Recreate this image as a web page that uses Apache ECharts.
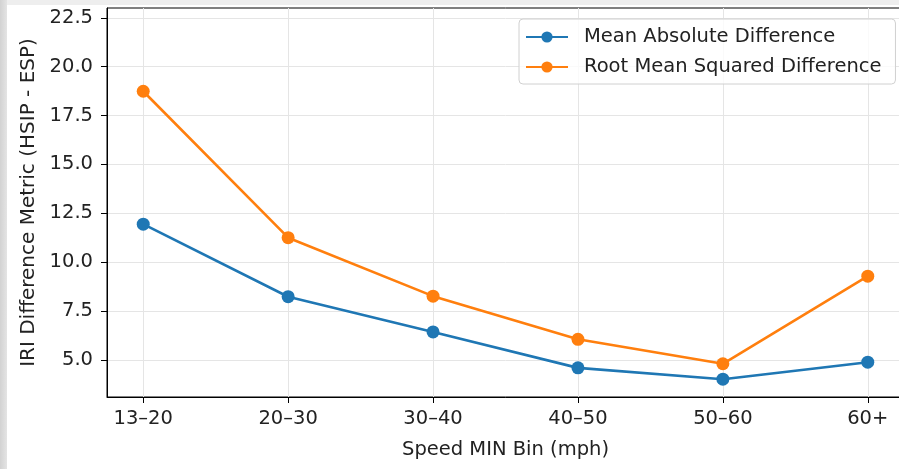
<!DOCTYPE html>
<html>
<head>
<meta charset="utf-8">
<script src="https://cdn.jsdelivr.net/npm/echarts@6/dist/echarts.min.js"></script>
<style>
  html, body { margin: 0; padding: 0; width: 899px; height: 469px; overflow: hidden; }
  body { background: linear-gradient(to right, #d2d2d2 0px, #e4e4e4 7px, #eeeeee 7px); position: relative; }
  #chart { position: absolute; left: 7px; top: 5px; width: 920px; height: 464px; background: #fff; }
</style>
</head>
<body>
<div id="chart"></div>
<script>
// speed bins and the two difference metrics
var speedBins = ['13–20', '20–30', '30–40', '40–50', '50–60', '60+'];
var meanAbsDiff = [11.94, 8.23, 6.43, 4.59, 4.01, 4.88];
var rootMeanSqDiff = [18.74, 11.25, 8.26, 6.05, 4.80, 9.28];
var yTicks = [5, 7.5, 10, 12.5, 15, 17.5, 20, 22.5];
var xTicks = [0, 1, 2, 3, 4, 5];

var font = 'DejaVu Sans';
var txt = '#222';

function pairs(vals) {
    return vals.map(function (v, i) { return [i, v]; });
}

var myChart = echarts.init(document.getElementById('chart'));
myChart.setOption({
    animation: false,
    textStyle: { fontFamily: font },
    grid: {
        left: 100, top: 3, right: 23, bottom: 72,
        show: true, borderColor: '#000', borderWidth: 1
    },
    legend: {
        left: 512, top: 14,
        orient: 'vertical',
        itemWidth: 42, itemHeight: 14, itemGap: 10,
        padding: [8, 14, 7, 6],
        borderColor: '#d0d0d0', borderWidth: 1, borderRadius: 4,
        backgroundColor: 'rgba(255,255,255,0.8)',
        textStyle: { fontFamily: font, fontSize: 19.5, color: txt, lineHeight: 20, padding: [0, 0, 0, 11] },
        data: ['Mean Absolute Difference', 'Root Mean Squared Difference']
    },
    xAxis: {
        type: 'value',
        min: -0.25, max: 5.25,
        name: 'Speed MIN Bin (mph)',
        nameLocation: 'middle', nameGap: 43,
        nameTextStyle: { fontFamily: font, fontSize: 19.5, color: txt },
        axisLine: { onZero: false, lineStyle: { color: '#000', width: 1 } },
        axisTick: { show: true, length: 6, lineStyle: { color: '#000' }, customValues: xTicks },
        axisLabel: {
            margin: 12, fontFamily: font, fontSize: 19.5, color: txt,
            customValues: xTicks,
            formatter: function (v) { return speedBins[Math.round(v)]; }
        },
        splitLine: { show: true, lineStyle: { color: '#e5e5e5', width: 1 } }
    },
    yAxis: {
        type: 'value',
        min: 3.1, max: 23,
        name: 'IRI Difference Metric (HSIP - ESP)',
        nameLocation: 'middle', nameGap: 68,
        nameTextStyle: { fontFamily: font, fontSize: 20, color: txt },
        axisLine: { show: true, onZero: false, lineStyle: { color: '#000', width: 1 } },
        axisTick: { show: true, length: 6, lineStyle: { color: '#000' }, customValues: yTicks },
        axisLabel: {
            margin: 14, fontFamily: font, fontSize: 19.5, color: txt,
            customValues: yTicks,
            formatter: function (v) { return v.toFixed(1); }
        },
        splitLine: { show: true, lineStyle: { color: '#e5e5e5', width: 1 } }
    },
    series: [
        {
            name: 'Mean Absolute Difference',
            type: 'line',
            data: pairs(meanAbsDiff),
            symbol: 'circle', symbolSize: 13,
            itemStyle: { color: '#1f77b4' },
            lineStyle: { color: '#1f77b4', width: 2.6 }
        },
        {
            name: 'Root Mean Squared Difference',
            type: 'line',
            data: pairs(rootMeanSqDiff),
            symbol: 'circle', symbolSize: 13,
            itemStyle: { color: '#ff7f0e' },
            lineStyle: { color: '#ff7f0e', width: 2.6 }
        }
    ]
});
</script>
</body>
</html>
